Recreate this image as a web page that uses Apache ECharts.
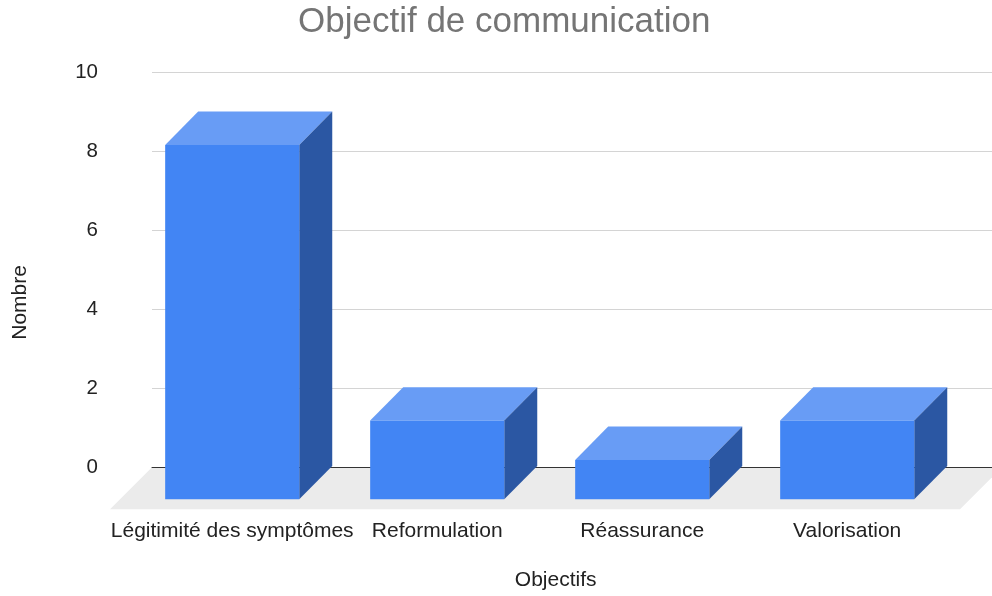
<!DOCTYPE html>
<html lang="fr">
<head>
    <meta charset="utf-8" />
    <title>Objectif de communication</title>
    <script src="https://cdn.jsdelivr.net/npm/echarts@6/dist/echarts.min.js"></script>
    <style>
        html, body { margin: 0; padding: 0; background: #fff; }
        #main { width: 992px; height: 596px; }
    </style>
</head>
<body>
<div id="main"></div>
<script type="text/javascript">
    // données du graphique
    var categories = ['Légitimité des symptômes', 'Reformulation', 'Réassurance', 'Valorisation'];
    var values = [9, 2, 1, 2];
    var yTicks = [0, 2, 4, 6, 8, 10];

    var FONT = '"Liberation Sans", Arial, Helvetica, sans-serif';
    var DEPTH_X = 33, DEPTH_Y = 33.3;   // décalage 3D des barres
    var FLOOR = 42;                      // profondeur du sol

    var barData = [];
    for (var i = 0; i < values.length; i++) {
        barData.push([i, values[i]]);
    }

    // barre en pseudo 3D : face avant, dessus, côté
    function renderBar(params, api) {
        var idx = api.value(0);
        var top = api.coord([idx, api.value(1)]);
        var base = api.coord([idx, 0]);
        var w = api.size([1, 0])[0] * 0.654;
        var l = base[0] - w / 2, r = base[0] + w / 2;
        return {
            type: 'group',
            children: [
                {
                    type: 'polygon',
                    shape: {points: [[l, top[1]], [r, top[1]], [r + DEPTH_X, top[1] - DEPTH_Y], [l + DEPTH_X, top[1] - DEPTH_Y]]},
                    style: {fill: '#689cf5'}
                },
                {
                    type: 'polygon',
                    shape: {points: [[r, top[1]], [r + DEPTH_X, top[1] - DEPTH_Y], [r + DEPTH_X, base[1] - DEPTH_Y], [r, base[1]]]},
                    style: {fill: '#2b57a3'}
                },
                {
                    type: 'rect',
                    shape: {x: l, y: top[1], width: w, height: base[1] - top[1]},
                    style: {fill: '#4285f4'}
                }
            ]
        };
    }

    // sol gris sous les barres
    function renderFloor(params, api) {
        var cs = params.coordSys;
        var y0 = api.coord([0, 0])[1];
        var x0 = cs.x, x1 = cs.x + cs.width + 10;
        return {
            type: 'polygon',
            shape: {points: [[x0, y0], [x1, y0], [x1 - FLOOR, y0 + FLOOR], [x0 - FLOOR, y0 + FLOOR]]},
            style: {fill: '#ebebeb'}
        };
    }

    var chart = echarts.init(document.getElementById('main'));
    var option = {
        backgroundColor: '#fff',
        animation: false,
        title: {
            text: 'Objectif de communication',
            left: 293,
            top: 0,
            padding: 5,
            textStyle: {fontFamily: FONT, fontSize: 35, fontWeight: 'normal', color: '#757575'}
        },
        grid: [
            // mur du fond
            {left: 152, right: 0, top: 72.7, height: 394.6, outerBoundsMode: 'none'},
            // plan avant des barres
            {left: 129.7, width: 820, top: 105.5, height: 393.8, outerBoundsMode: 'none'}
        ],
        xAxis: [
            {
                gridIndex: 0,
                type: 'value',
                min: 0,
                max: 1,
                axisLine: {show: true, lineStyle: {color: '#333', width: 1}},
                axisTick: {show: false},
                axisLabel: {show: false},
                splitLine: {show: false},
                z: 5
            },
            {
                gridIndex: 1,
                type: 'category',
                data: categories,
                axisLine: {show: false},
                axisTick: {show: false},
                axisLabel: {margin: 21, fontFamily: FONT, fontSize: 21, color: '#222', interval: 0},
                name: 'Objectifs',
                nameLocation: 'middle',
                nameGap: 70,
                nameTextStyle: {fontFamily: FONT, fontSize: 21, color: '#222', padding: [0, 0, 0, 32]}
            }
        ],
        yAxis: [
            {
                gridIndex: 0,
                type: 'value',
                min: yTicks[0],
                max: yTicks[yTicks.length - 1],
                interval: 2,
                axisLine: {show: false},
                axisTick: {show: false},
                axisLabel: {margin: 54, fontFamily: FONT, fontSize: 20.5, color: '#222'},
                splitLine: {lineStyle: {color: '#d4d4d4', width: 1}}
            },
            {
                gridIndex: 1,
                type: 'value',
                min: yTicks[0],
                max: yTicks[yTicks.length - 1],
                axisLine: {show: false},
                axisTick: {show: false},
                axisLabel: {show: false},
                splitLine: {show: false},
                name: 'Nombre',
                nameLocation: 'middle',
                nameGap: 99,
                nameTextStyle: {fontFamily: FONT, fontSize: 21, color: '#222'}
            }
        ],
        series: [
            {
                name: 'sol',
                type: 'custom',
                xAxisIndex: 0,
                yAxisIndex: 0,
                z: 1,
                silent: true,
                data: [[0, 0]],
                renderItem: renderFloor
            },
            {
                name: 'Nombre',
                type: 'custom',
                xAxisIndex: 1,
                yAxisIndex: 1,
                z: 10,
                data: barData,
                renderItem: renderBar
            }
        ]
    };
    chart.setOption(option);
</script>
</body>
</html>
